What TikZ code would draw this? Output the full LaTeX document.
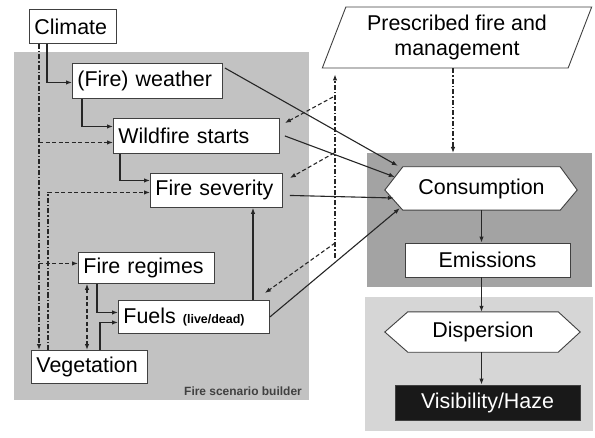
\documentclass[tikz,border=0pt]{standalone}
\usepackage{fontspec}
\setmainfont{Liberation Sans}
\usetikzlibrary{arrows.meta,shapes.geometric,calc}
\pgfdeclarelayer{panels}
\pgfdeclarelayer{shapes}
\pgfsetlayers{panels,shapes,main}
\begin{document}
\begin{tikzpicture}[x=1bp,y=-1bp,
  line/.style={draw=black!85, line width=1.1bp},
  arr/.style={line, -{Latex[length=6bp,width=4.5bp]}},
  dsh/.style={arr, dash pattern=on 4bp off 2.5bp},
  dd/.style={line, dash pattern=on 5bp off 2bp on 1.5bp off 2bp},
  ddarr/.style={dd, -{Latex[length=6bp,width=4.5bp]}},
  lbl/.style={font=\fontsize{21.5}{25}\selectfont},
  box/.style={lbl, draw=black!75, fill=white, line width=0.9bp, inner xsep=5bp, inner ysep=0bp, align=left, anchor=north west},
  cbox/.style={lbl, draw=black!75, fill=white, line width=0.9bp, inner sep=0bp, align=center},
  hexnode/.style={lbl, inner sep=0bp, align=center},
  hexline/.style={draw=black!75, fill=white, line width=0.9bp},
  panel/.style={draw=none, anchor=north west, inner sep=0bp},
]
\useasboundingbox (0,0) rectangle (595,438);

% panels
\begin{pgfonlayer}{panels}
\node[panel, fill=black!24, minimum width=295bp, minimum height=348bp] (lpanel) at (14,52) {};
\node[panel, fill=black!36, minimum width=225bp, minimum height=134bp] (rtpanel) at (367,153) {};
\node[panel, fill=black!16, minimum width=228bp, minimum height=134bp] (rbpanel) at (365,297) {};
\end{pgfonlayer}

% left nodes
\node[box, text width=77bp, minimum height=34bp] (climate) at (29,9) {Climate};
\node[box, text width=140bp, minimum height=35bp] (weather) at (72,63) {(Fire) weather};
\node[box, text width=156bp, minimum height=35bp] (wildfire) at (113,118) {Wildfire starts};
\node[box, text width=122bp, minimum height=34bp] (severity) at (150,173) {Fire severity};
\node[box, text width=126bp, minimum height=31bp] (regimes) at (78,252) {Fire regimes};
\node[box, text width=141bp, minimum height=33bp] (fuels) at (118,300) {Fuels {\fontsize{12.5}{14}\selectfont\bfseries (live/dead)}};
\node[box, text width=106bp, minimum height=33bp] (vegetation) at (31,350) {Vegetation};
\node[font=\fontsize{12}{14}\selectfont\bfseries, text=black!75, anchor=south east, inner sep=0bp] (builder) at (302,396) {Fire scenario builder};

% prescribed fire
\node[trapezium, trapezium left angle=67, trapezium right angle=113, trapezium stretches=true,
  draw=black!75, fill=white, line width=0.9bp, minimum width=270bp, minimum height=61bp,
  lbl, align=center, inner sep=0bp] (prescribed) at (457,37.5) {Prescribed fire and\\management};

% right nodes
\node[hexnode, minimum width=157bp, minimum height=43bp] (consumption) at (481.5,188.5) {Consumption};
\node[cbox, minimum width=165bp, minimum height=34bp] (emissions) at (487.5,260) {Emissions};
\node[hexnode, minimum width=150bp, minimum height=40bp] (dispersion) at (483,332) {Dispersion};
\node[cbox, fill=black!90, text=white, minimum width=185bp, minimum height=35bp] (visibility) at (487.5,402.5) {Visibility/Haze};

\begin{pgfonlayer}{shapes}
\draw[hexline] (consumption.north west) -- (consumption.north east) -- ($(consumption.east)+(17,1.5)$)
  -- (consumption.south east) -- (consumption.south west) -- ($(consumption.west)+(-18,1.5)$) -- cycle;
\draw[hexline] (dispersion.north west) -- (dispersion.north east) -- ($(dispersion.east)+(22,0)$)
  -- (dispersion.south east) -- (dispersion.south west) -- ($(dispersion.west)+(-23,0)$) -- cycle;
\end{pgfonlayer}

% trunk coordinates
\coordinate (ta) at (39,0);
\coordinate (tb) at (48,0);
\coordinate (tc) at (87,0);
\coordinate (td) at (97,0);
\coordinate (te) at (100,0);
\coordinate (tf) at (47,0);
\coordinate (tg) at (82,0);
\coordinate (th) at (120,0);
\coordinate (ti) at (253,0);
\coordinate (pc) at (453,0);
\coordinate (m0) at (335,258);
\coordinate (m1) at (333,97);
\coordinate (m2) at (334,153);
\coordinate (m3) at (335,243);

% left solid connectors
\draw[arr] (climate.south -| tf) |- ($(weather.west)+(0,1.5)$);
\draw[arr] (weather.south -| tg) |- ($(wildfire.west)+(0,-9.5)$);
\draw[arr] (wildfire.south -| th) |- ($(severity.west)+(0,-10)$);
\draw[arr] (regimes.south -| td) |- ($(fuels.west)+(0,-4.5)$);
\draw[arr] (vegetation.north -| te) |- ($(fuels.west)+(0,5.5)$);
\draw[arr] (fuels.north -| ti) -- (severity.south -| ti);

% left dashed connectors
\draw[ddarr] (climate.south -| ta) -- (vegetation.north -| ta);
\draw[dsh] ($(wildfire.west -| ta)+(0,6.5)$) -- ($(wildfire.west)+(0,6.5)$);
\draw[dsh] ($(regimes.west -| ta)+(0,-4.5)$) -- ($(regimes.west)+(0,-4.5)$);
\draw[dd] (vegetation.north -| tb) -- ($(severity.west -| tb)+(0,2)$);
\draw[dsh] ($(severity.west -| tb)+(0,2)$) -- ($(severity.west)+(0,2)$);
\draw[dsh, {Latex[length=6bp,width=4.5bp]}-{Latex[length=6bp,width=4.5bp]}] (regimes.south -| tc) -- (vegetation.north -| tc);

% management trunk
\draw[ddarr, shorten >=6bp] (m0) -- (m0 |- prescribed.south);
\draw[dsh] (m1) -- ($(wildfire.north east)+(5,5)$);
\draw[dsh] (m2) -- ($(severity.north east)+(7,5)$);
\draw[dsh] (m3) -- ($(fuels.north east)+(-5,-7)$);
\draw[ddarr] (prescribed.south -| pc) -- (rtpanel.north -| pc);

% arrows into consumption
\draw[arr] ($(weather.north east)+(2,5)$) -- ($(consumption.north west)+(-5,-1)$);
\draw[arr] ($(wildfire.east)+(5,0)$) -- ($(consumption.west)+(-8,-11.5)$);
\draw[arr] ($(severity.east)+(7,5)$) -- ($(consumption.west)+(-9,9.5)$);
\draw[arr] (fuels.east) -- ($(consumption.south west)+(-3,-2)$);

% right chain
\draw[arr] (consumption.south) -- (consumption.south |- emissions.north);
\draw[arr] (consumption.south |- emissions.south) -- (consumption.south |- dispersion.north);
\draw[arr] (consumption.south |- dispersion.south) -- (consumption.south |- visibility.north);
\end{tikzpicture}
\end{document}
